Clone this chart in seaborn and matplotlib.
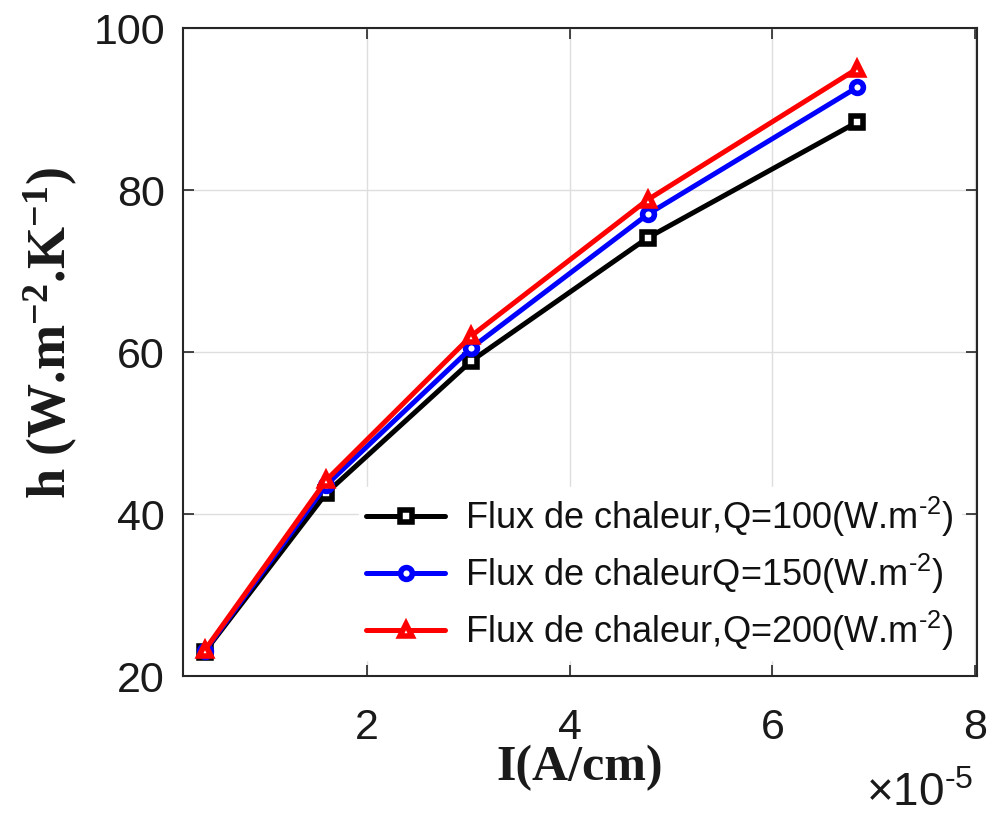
import matplotlib
matplotlib.use("Agg")
import matplotlib.pyplot as plt
import seaborn as sns
import pandas as pd

# ---- data (x in units of 1e-5 A/cm) ----
current = [0.40, 1.60, 3.03, 4.77, 6.84]
h_q100 = [23.0, 42.6, 58.9, 74.1, 88.4]
h_q150 = [23.1, 43.6, 60.5, 77.0, 92.7]
h_q200 = [23.2, 44.2, 62.0, 78.8, 95.0]
labels = [r"Flux de chaleur,Q=100(W.m$^{\text{-2}}$)",
          r"Flux de chaleurQ=150(W.m$^{\text{-2}}$)",
          r"Flux de chaleur,Q=200(W.m$^{\text{-2}}$)"]
colors = ["#000000", "#0000ff", "#ff0000"]
markers = ["s", "o", "^"]
xticks = [2, 4, 6, 8]
yticks = [20, 40, 60, 80, 100]

sns.set_theme(style="white")
plt.rcParams["font.family"] = ["Liberation Sans", "DejaVu Sans"]
plt.rcParams["mathtext.fontset"] = "custom"
plt.rcParams["mathtext.rm"] = "Liberation Sans"
plt.rcParams["mathtext.bf"] = "Liberation Serif:bold"

fig = plt.figure(figsize=(9.97, 8.19), dpi=100)
ax = fig.add_axes([0.1836, 0.1746, 0.7964, 0.7912])

series = [h_q100, h_q150, h_q200]
for vals, lab, col, mk in zip(series, labels, colors, markers):
    df = pd.DataFrame({"I": current, "h": vals})
    sns.lineplot(data=df, x="I", y="h", ax=ax, color=col, lw=3.6,
                 marker=mk, markersize=8.5, mfc="white", mec=col, mew=4.0,
                 label=lab, legend=False)

ax.set_xlim(0.185, 8.02)
ax.set_ylim(20, 100)
ax.set_xticks(xticks)
ax.set_yticks(yticks)
ax.grid(True, color="#dedede", lw=1.0)
ax.set_axisbelow(True)
for s in ax.spines.values():
    s.set_color("#262626")
    s.set_linewidth(1.5)
ax.tick_params(axis="both", which="both", direction="in", length=8, width=1.2,
               color="#262626", labelsize=31, labelcolor="#1a1a1a",
               top=True, right=True, bottom=True, left=True)
ax.tick_params(axis="x", pad=23)
ax.tick_params(axis="y", pad=13)

ax.set_xlabel("I(A/cm)", fontsize=36, fontweight="bold",
              family=["Liberation Serif"], color="#1a1a1a", labelpad=-2)
ax.set_ylabel(r"h (W.m$\mathbf{^{-2}}$.K$\mathbf{^{-1}}$)", fontsize=39,
              fontweight="bold", family=["Liberation Serif"], color="#1a1a1a")
ax.yaxis.set_label_coords(-0.13, 0.53)

fig.text(0.976, 1 - 806 / 819, r"$\times$10$^{\text{-5}}$", fontsize=33,
         ha="right", va="baseline", color="#1a1a1a")

leg = ax.legend(loc="lower right", fontsize=26, frameon=True, framealpha=1.0,
                edgecolor="white", facecolor="white", handlelength=2.2,
                handletextpad=0.55, labelspacing=0.35, borderaxespad=0.45,
                borderpad=0.2, fancybox=False)
for t in leg.get_texts():
    t.set_color("#111111")

fig.savefig("out.png", dpi=100)
